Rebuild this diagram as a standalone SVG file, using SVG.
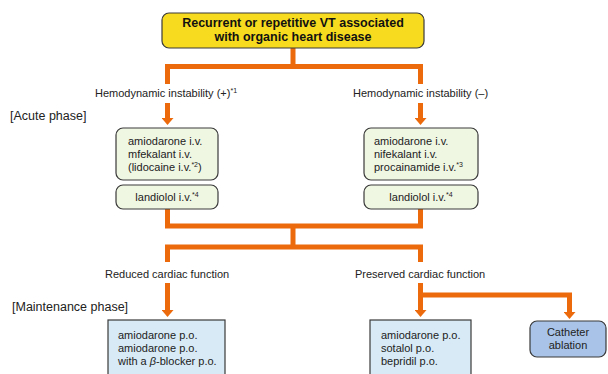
<svg xmlns="http://www.w3.org/2000/svg" width="608" height="374" viewBox="0 0 608 374">
<style>
text{font-family:"Liberation Sans",Arial,sans-serif;font-size:11px;fill:#222}
.title{font-weight:bold;font-size:12.5px;fill:#111}
.phase{font-size:12.5px}
.sup{font-size:7px}
.conn{fill:none;stroke:#EC6A0C;stroke-width:5;stroke-linejoin:miter}
.green{fill:#EFF6E2;stroke:#3a3a3a;stroke-width:1.2}
.blue{fill:#D7EAF6;stroke:#3a3a3a;stroke-width:1.2}
.abl{fill:#A8C3E7;stroke:#3a3a3a;stroke-width:1.2}
.yellow{fill:#F7DB1E;stroke:#3a3a3a;stroke-width:1.2}
</style>
<defs>
<marker id="ah" viewBox="0 0 7 12" refX="1" refY="6" markerWidth="7" markerHeight="12" markerUnits="userSpaceOnUse" orient="auto">
<path d="M0,0 L7,6 L0,12 z" fill="#EC6A0C"/>
</marker>
</defs>
<rect width="608" height="374" fill="#fff"/>
<g id="connectors">
<path class="conn" d="M167.5,84 V66.5 H420.5 V84 M293,48 V66.5"/>
<path class="conn" d="M167.5,103 V119" marker-end="url(#ah)"/>
<path class="conn" d="M420.5,103 V119" marker-end="url(#ah)"/>
<path class="conn" d="M167.5,209 V226 H420.5 V209 M293,226 V247 M167.5,262 V247 H420.5 V262"/>
<path class="conn" d="M167.5,283 V311" marker-end="url(#ah)"/>
<path class="conn" d="M420.5,283 V311" marker-end="url(#ah)"/>
<path class="conn" d="M420.5,295 H569.5 V313" marker-end="url(#ah)"/>
</g>
<g id="top">
<rect class="yellow" x="162" y="13" width="262" height="35" rx="7"/>
<text class="title" x="293" y="27" text-anchor="middle">Recurrent or repetitive VT associated</text>
<text class="title" x="293" y="41" text-anchor="middle">with organic heart disease</text>
</g>
<g id="label-unstable"><text x="95" y="97">Hemodynamic instability (+)<tspan class="sup" dy="-4">*1</tspan></text></g>
<g id="label-stable"><text x="353" y="97">Hemodynamic instability (–)</text></g>
<g id="acute"><text class="phase" x="10" y="120">[Acute phase]</text></g>
<g id="acute-left">
<rect class="green" x="116" y="128" width="102" height="52" rx="7"/>
<text x="128" y="145">amiodarone i.v.</text>
<text x="128" y="158">mfekalant i.v.</text>
<text x="128" y="171">(lidocaine i.v.<tspan class="sup" dy="-4">*2</tspan><tspan dy="4">)</tspan></text>
</g>
<g id="acute-left-2">
<rect class="green" x="116" y="185" width="102" height="24" rx="7"/>
<text x="167" y="201" text-anchor="middle">landiolol i.v.<tspan class="sup" dy="-4">*4</tspan></text>
</g>
<g id="acute-right">
<rect class="green" x="364" y="128" width="114" height="52" rx="7"/>
<text x="374" y="145">amiodarone i.v.</text>
<text x="374" y="158">nifekalant i.v.</text>
<text x="374" y="171">procainamide i.v.<tspan class="sup" dy="-4">*3</tspan></text>
</g>
<g id="acute-right-2">
<rect class="green" x="364" y="185" width="114" height="24" rx="7"/>
<text x="421" y="201" text-anchor="middle">landiolol i.v.<tspan class="sup" dy="-4">*4</tspan></text>
</g>
<g id="label-reduced"><text x="105" y="278">Reduced cardiac function</text></g>
<g id="label-preserved"><text x="355" y="278">Preserved cardiac function</text></g>
<g id="maintenance"><text class="phase" x="12" y="311">[Maintenance phase]</text></g>
<g id="maint-left">
<rect class="blue" x="108" y="320" width="117" height="60"/>
<text x="118" y="339">amiodarone p.o.</text>
<text x="118" y="352">amiodarone p.o.</text>
<text x="118" y="365">with a <tspan font-style="italic">β</tspan>-blocker p.o.</text>
</g>
<g id="maint-right">
<rect class="blue" x="370" y="320" width="101" height="60"/>
<text x="381" y="339">amiodarone p.o.</text>
<text x="381" y="352">sotalol p.o.</text>
<text x="381" y="365">bepridil p.o.</text>
</g>
<g id="ablation">
<rect class="abl" x="530" y="321" width="76" height="36" rx="7"/>
<text x="568" y="336" text-anchor="middle">Catheter</text>
<text x="568" y="349" text-anchor="middle">ablation</text>
</g>
</svg>
